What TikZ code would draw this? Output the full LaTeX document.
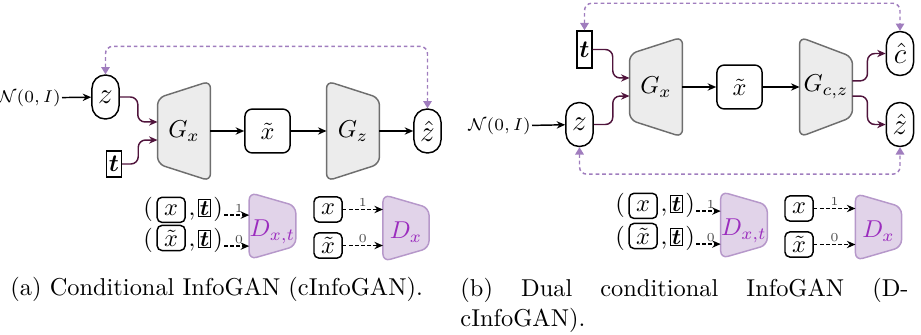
\documentclass[tikz,border=0pt]{standalone}
\usepackage{amsmath,amssymb,bm}
\usepackage{xcolor}
\usetikzlibrary{arrows.meta,calc,positioning,backgrounds}

\definecolor{genfill}{RGB}{236,236,236}
\definecolor{gendraw}{RGB}{110,110,110}
\definecolor{discfill}{RGB}{225,211,233}
\definecolor{discdraw}{RGB}{182,152,202}
\definecolor{disctext}{RGB}{155,45,190}
\definecolor{fbcol}{RGB}{160,125,190}
\definecolor{incol}{RGB}{80,20,60}

% trapezoid behind a node, narrow side left / right
\newcommand{\trapL}[2]{\draw[#2] ($(#1.north west)!.17!(#1.south west)$) -- (#1.north east)
  -- (#1.south east) -- ($(#1.south west)!.17!(#1.north west)$) -- cycle;}
\newcommand{\trapR}[3]{\draw[#2] (#1.north west) -- ($(#1.north east)!#3!(#1.south east)$)
  -- ($(#1.south east)!#3!(#1.north east)$) -- (#1.south west) -- cycle;}

\begin{document}
\begin{tikzpicture}[x=0.41pt,y=-0.41pt,
    lat/.style={draw,semithick,rounded corners=5.4pt,minimum width=11.1pt,
      minimum height=18pt,inner sep=0pt,font=\large},
    cond/.style={draw,semithick,inner sep=1pt,minimum width=5.7pt,minimum height=10.7pt},
    img/.style={draw,semithick,rounded corners=3pt,minimum width=18.5pt,
      minimum height=18pt,inner sep=0pt},
    gen/.style={minimum width=21.3pt,minimum height=40.6pt,inner sep=0pt},
    genshape/.style={draw=gendraw,fill=genfill,semithick,rounded corners=3pt},
    disc/.style={minimum width=18.5pt,minimum height=27pt,inner sep=0pt,text=disctext,
      text height=8.5pt,text depth=0pt},
    discshape/.style={draw=discdraw,fill=discfill,semithick,rounded corners=3pt},
    sbox/.style={draw,semithick,rounded corners=2pt,minimum width=11.5pt,
      minimum height=10.3pt,inner sep=0pt},
    tsbox/.style={draw,thin,inner sep=0.5pt,minimum height=6.7pt,font=\small},
    txt/.style={inner sep=0.3pt},
    lbl/.style={font=\tiny,text=black!70,inner sep=0.8pt},
    flow/.style={-{Stealth[length=3.5pt,width=3pt]},semithick},
    fake/.style={flow,dash pattern=on 1.5pt off 1pt},
    cin/.style={-{Stealth[length=3.5pt,width=3pt]},semithick,draw=incol,rounded corners=3pt},
    fb/.style={{Triangle[length=3pt,width=3.5pt]}-{Triangle[length=3pt,width=3.5pt]},
      draw=fbcol,semithick,dash pattern=on 1.5pt off 1.2pt,rounded corners=3pt}
  ]
  \useasboundingbox (0,0) rectangle (921,334);

  % (a) conditional InfoGAN
  \node[txt,anchor=east,font=\scriptsize] (noisea) at (62,98) {$\mathcal{N}(0,I)$};
  \node[lat] (za) at (105.5,97) {$z$};
  \node[cond] (ta) at (114,164) {$\boldsymbol{t}$};
  \node[gen] (Gxa) at (184,131) {$G_x$};
  \node[img] (xta) at (267.5,131) {$\tilde{x}$};
  \node[gen] (Gza) at (353,131) {$G_z$};
  \node[lat] (zha) at (427.5,131) {$\hat{z}$};

  \draw[flow] (noisea) -- (za);
  \draw[cin] (za.east) -- ++(18,0) |- ([yshift=3.7pt]Gxa.west);
  \draw[cin] (ta.east) -- ++(16,0) |- ([yshift=-3.7pt]Gxa.west);
  \draw[flow] (Gxa) -- (xta);
  \draw[flow] (xta) -- (Gza);
  \draw[flow] (Gza) -- (zha);
  \draw[fb] (za.north) -- ++(0,-28) -| (zha.north);

  \node[txt] (pl1a) at (148,209) {$($};
  \node[sbox,base right=1pt of pl1a] (xr1a) {$x$};
  \node[txt,base right=0.6pt of xr1a] (cm1a) {$,$};
  \node[tsbox,base right=0.6pt of cm1a] (tr1a) {$\boldsymbol{t}$};
  \node[txt,base right=0.5pt of tr1a] (pr1a) {$)$};
  \node[txt] (pl2a) at (148,240) {$($};
  \node[sbox,base right=1pt of pl2a] (xr2a) {$\tilde{x}$};
  \node[txt,base right=0.6pt of xr2a] (cm2a) {$,$};
  \node[tsbox,base right=0.6pt of cm2a] (tr2a) {$\boldsymbol{t}$};
  \node[txt,base right=0.5pt of tr2a] (pr2a) {$)$};
  \node[disc] (Dxta) at (272.5,226) {$D_{x,t}$};
  \draw[fake] (pr1a.base east) -- (pr1a.base east -| Dxta.west) node[lbl,pos=.6,above] {1};
  \draw[fake] (pr2a.base east) -- (pr2a.base east -| Dxta.west) node[lbl,pos=.6,above] {0};

  \node[sbox] (xr3a) at (328,209.5) {$x$};
  \node[sbox] (xr4a) at (328,245.5) {$\tilde{x}$};
  \node[disc] (Dxa) at (406,228) {$D_x$};
  \draw[fake] (xr3a.east) -- (xr3a.east -| Dxa.west) node[lbl,midway,above] {1};
  \draw[fake] (xr4a.east) -- (xr4a.east -| Dxa.west) node[lbl,midway,above] {0};

  % (b) dual conditional InfoGAN
  \node[txt,anchor=east,font=\scriptsize] (noiseb) at (532,126) {$\mathcal{N}(0,I)$};
  \node[lat] (zb) at (579.5,124.5) {$z$};
  \node[cond,minimum height=15.2pt] (tb) at (584.5,49.5) {$\boldsymbol{t}$};
  \node[gen] (Gxb) at (656,87) {$G_x$};
  \node[img] (xtb) at (739.5,87) {$\tilde{x}$};
  \node[gen] (Gczb) at (826,87) {$G_{c,z}$};
  \node[lat] (chb) at (900,53.5) {$\hat{c}$};
  \node[lat] (zhb) at (900,124.5) {$\hat{z}$};

  \draw[flow] (noiseb) -- (zb);
  \draw[cin] (tb.east) -- ++(20,0) |- ([yshift=3.7pt]Gxb.west);
  \draw[cin] (zb.east) -- ++(19,0) |- ([yshift=-3.7pt]Gxb.west);
  \draw[flow] (Gxb) -- (xtb);
  \draw[flow] (xtb) -- (Gczb);
  \draw[cin] ([yshift=2.5pt]Gczb.east) -- ++(15,0) |- (chb.west);
  \draw[cin] ([yshift=-3.7pt]Gczb.east) -- ++(15,0) |- (zhb.west);
  \draw[fb] (tb.north) -- ++(0,-27) -| (chb.north);
  \draw[fb] (zb.south) -- ++(0,27) -| (zhb.south);

  \node[txt] (pl1b) at (620,205) {$($};
  \node[sbox,base right=1pt of pl1b] (xr1b) {$x$};
  \node[txt,base right=0.6pt of xr1b] (cm1b) {$,$};
  \node[tsbox,base right=0.6pt of cm1b] (tr1b) {$\boldsymbol{t}$};
  \node[txt,base right=0.5pt of tr1b] (pr1b) {$)$};
  \node[txt] (pl2b) at (620,238) {$($};
  \node[sbox,base right=1pt of pl2b] (xr2b) {$\tilde{x}$};
  \node[txt,base right=0.6pt of xr2b] (cm2b) {$,$};
  \node[tsbox,base right=0.6pt of cm2b] (tr2b) {$\boldsymbol{t}$};
  \node[txt,base right=0.5pt of tr2b] (pr2b) {$)$};
  \node[disc] (Dxtb) at (744,225) {$D_{x,t}$};
  \draw[fake] (pr1b.base east) -- (pr1b.base east -| Dxtb.west) node[lbl,pos=.6,above] {1};
  \draw[fake] (pr2b.base east) -- (pr2b.base east -| Dxtb.west) node[lbl,pos=.6,above] {0};

  \node[sbox] (xr3b) at (799,208.5) {$x$};
  \node[sbox] (xr4b) at (799,244.5) {$\tilde{x}$};
  \node[disc] (Dxb) at (878.5,227) {$D_x$};
  \draw[fake] (xr3b.east) -- (xr3b.east -| Dxb.west) node[lbl,midway,above] {1};
  \draw[fake] (xr4b.east) -- (xr4b.east -| Dxb.west) node[lbl,midway,above] {0};

  \begin{pgfonlayer}{background}
    \trapL{Gxa}{genshape}
    \trapR{Gza}{genshape}{.17}
    \trapL{Gxb}{genshape}
    \trapR{Gczb}{genshape}{.2}
    \trapR{Dxta}{discshape}{.2}
    \trapR{Dxa}{discshape}{.2}
    \trapR{Dxtb}{discshape}{.2}
    \trapR{Dxb}{discshape}{.2}
  \end{pgfonlayer}

  % captions
  \node[anchor=base west,inner sep=0pt] (capa) at (10,295) {(a) Conditional InfoGAN (cInfoGAN).};
  \node[anchor=north west,inner sep=0pt,text width=183.7pt,align=justify] (capb) at (460,278)
    {(b) Dual conditional InfoGAN (D-\linebreak cInfoGAN).};
\end{tikzpicture}
\end{document}
